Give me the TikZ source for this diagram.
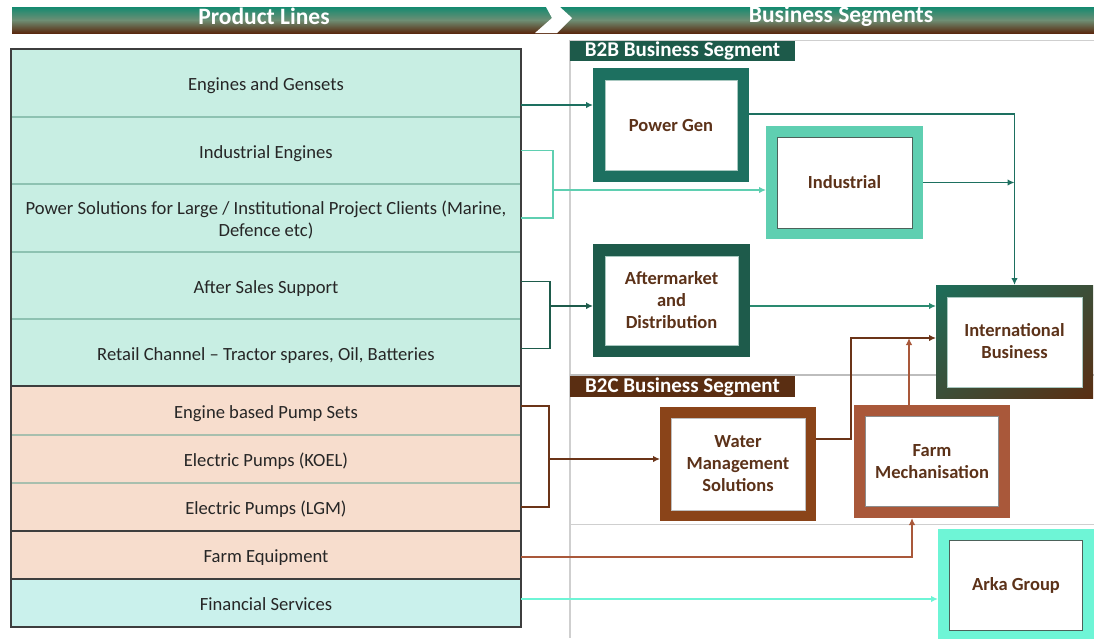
\documentclass[tikz,border=0pt]{standalone}
\usepackage{fontspec}
\setmainfont{Carlito}
\usetikzlibrary{arrows.meta,calc,shadings}
\definecolor{rowgreen}{HTML}{C8EEE3}
\definecolor{rowpeach}{HTML}{F7DDCD}
\definecolor{rowcyan}{HTML}{CAF1EC}
\definecolor{sepgreen}{HTML}{8EC2B2}
\definecolor{seppeach}{HTML}{A8BFAE}
\definecolor{outl}{HTML}{3E3E3E}
\definecolor{pgcol}{HTML}{1D7060}
\definecolor{adcol}{HTML}{1E5B4B}
\definecolor{indcol}{HTML}{5FCFB1}
\definecolor{wmcol}{HTML}{8A4419}
\definecolor{fmcol}{HTML}{A9583A}
\definecolor{akcol}{HTML}{6EF5D6}
\definecolor{txtbrown}{HTML}{5C3219}
\definecolor{b2bcol}{HTML}{1D5A4A}
\definecolor{b2ccol}{HTML}{5A2E12}
\definecolor{gridgrey}{HTML}{CFCFCF}
\definecolor{gridmid}{HTML}{BDBDBD}
\definecolor{linkgreen}{HTML}{2A8A70}
\definecolor{linkbrown}{HTML}{6B3418}
\definecolor{hdtop}{HTML}{148A70}
\definecolor{hdmid}{HTML}{6E8E74}
\definecolor{hdbot}{HTML}{5A2A10}
\definecolor{ibtl}{HTML}{1D6E5A}
\definecolor{ibbr}{HTML}{5A2E12}
\definecolor{ibmid}{HTML}{3C4E38}
\definecolor{innerdark}{HTML}{4C625A}
\definecolor{innerlight}{HTML}{A8C8C0}
\newcommand\rowfnt{\fontsize{18.6}{22}\selectfont}
\newcommand\boxfnt{\fontsize{18.5}{22}\selectfont\bfseries}
\newcommand\hdfnt{\fontsize{23.5}{26}\selectfont\bfseries}
\newcommand\lblfnt{\fontsize{21}{22}\selectfont\bfseries}
\begin{document}
\begin{tikzpicture}[x=1pt,y=-1pt,
  row/.style={rectangle, minimum width=510pt, inner sep=0pt, outer sep=0pt, anchor=north west, font=\rowfnt, text=black!85, align=center},
  rowone/.style={row, text height=16pt, text depth=1pt},
  seg/.style={rectangle, fill=white, inner sep=0pt, font=\boxfnt, text=txtbrown, align=center},
  sepline/.style={line width=1.3pt},
  outline/.style={draw=outl, line width=1.6pt},
  brk/.style={line width=1.6pt},
  link/.style={line width=1.6pt, -{Latex[length=7pt,width=6.5pt]}},
  lbl/.style={rectangle, text=white, font=\lblfnt, minimum width=225pt, inner sep=0pt, outer sep=0pt, anchor=north west},
  inline/.style={line width=0.8pt}
]
\useasboundingbox (0,0) rectangle (1094,638);
\fill[white] (0,0) rectangle (1094,638);

% header
\shade[top color=hdtop, bottom color=hdbot, middle color=hdmid] (12,7) rectangle (1094,33);
\fill[white] (546,7) -- (560,7) -- (572,18) -- (557,33) -- (535,33) -- (552,18) -- cycle;
\node[font=\hdfnt, text=white] (hpl) at (264,16) {Product Lines};
\node[font=\hdfnt, text=white] (hbs) at (841,16) {Business Segments};

% grid lines on the right
\draw[gridgrey, line width=1pt] (570,40) -- (1094,40);
\draw[gridgrey, line width=1.2pt] (570,40) -- (570,638);
\draw[gridmid, line width=2pt] (570,375) -- (1094,375);
\draw[gridgrey, line width=1pt] (570,524) -- (1094,524);

% segment labels
\node[lbl, fill=b2bcol, minimum height=20pt] (b2b) at (570,41) {B2B Business Segment};
\node[lbl, fill=b2ccol, minimum height=21pt] (b2c) at (570,376) {B2C Business Segment};

% product lines rows
\node[rowone, fill=rowgreen, minimum height=68pt] (r1) at (11,49) {Engines and Gensets};
\node[rowone, fill=rowgreen, minimum height=67pt] (r2) at (11,117) {Industrial Engines};
\node[row, fill=rowgreen, minimum height=68pt] (r3) at (11,184) {\rule{0pt}{17pt}Power Solutions for Large / Institutional Project Clients (Marine,\\Defence etc)};
\node[rowone, fill=rowgreen, minimum height=67pt] (r4) at (11,252) {After Sales Support};
\node[rowone, fill=rowgreen, minimum height=67pt] (r5) at (11,319) {Retail Channel -- Tractor spares, Oil, Batteries};
\node[rowone, fill=rowpeach, minimum height=49pt] (r6) at (11,386) {Engine based Pump Sets};
\node[rowone, fill=rowpeach, minimum height=48pt] (r7) at (11,435) {Electric Pumps (KOEL)};
\node[rowone, fill=rowpeach, minimum height=48pt] (r8) at (11,483) {Electric Pumps (LGM)};
\node[rowone, fill=rowpeach, minimum height=48pt] (r9) at (11,531) {Farm Equipment};
\node[rowone, fill=rowcyan, minimum height=48pt] (r10) at (11,579) {Financial Services};

\foreach \a in {r1,r2,r3,r4} \draw[sepline, sepgreen] (\a.south west) -- (\a.south east);
\foreach \a in {r6,r7} \draw[sepline, seppeach] (\a.south west) -- (\a.south east);
\draw[outline] (r1.north west) rectangle (r5.south east);
\draw[outline] (r6.north west) rectangle (r8.south east);
\draw[outline] (r9.north west) rectangle (r9.south east);
\draw[outline] (r10.north west) rectangle (r10.south east);

% business segment boxes
\node[seg, draw=pgcol, line width=12pt, outer sep=6pt, minimum width=144pt, minimum height=102pt] (pg) at (671,125) {Power Gen};
\node[seg, draw=indcol, line width=11pt, outer sep=5.5pt, minimum width=146pt, minimum height=102pt] (ind) at (844.5,182.5) {Industrial};
\node[seg, draw=adcol, line width=12pt, outer sep=6pt, minimum width=145pt, minimum height=101pt] (ad) at (671.5,300.5) {Aftermarket\\and\\Distribution};
\node[seg, draw=wmcol, line width=11pt, outer sep=5.5pt, minimum width=145pt, minimum height=103pt] (wm) at (738,464) {Water\\Management\\Solutions};
\node[seg, draw=fmcol, line width=11.5pt, outer sep=5.75pt, minimum width=144.5pt, minimum height=101.5pt] (fm) at (932,461.5) {Farm\\Mechanisation};
\node[seg, draw=akcol, line width=11.5pt, outer sep=5.75pt, minimum width=144.5pt, minimum height=101.5pt] (ak) at (1016,585.5) {Arka Group};

% international business with gradient frame
\node[rectangle, minimum width=157pt, minimum height=113pt, inner sep=0pt, outer sep=0pt] (ib) at (1014.5,341.5) {};
\shade[upper left=ibtl, lower right=ibbr, upper right=ibmid, lower left=ibmid] (ib.north west) rectangle (ib.south east);
\fill[white] ([shift={(11pt,-12pt)}]ib.north west) rectangle ([shift={(-11pt,11pt)}]ib.south east);
\draw[inline, innerlight] ([shift={(11pt,-12pt)}]ib.north west) rectangle ([shift={(-11pt,11pt)}]ib.south east);
\node[seg, fill=none] (ibt) at (ib.center) {International\\Business};

% thin inner borders
\draw[inline, innerlight] ([shift={(12pt,-12pt)}]pg.north west) rectangle ([shift={(-12pt,12pt)}]pg.south east);
\draw[inline, innerdark] ([shift={(11pt,-11pt)}]ind.north west) rectangle ([shift={(-11pt,11pt)}]ind.south east);
\draw[inline, innerlight] ([shift={(12pt,-12pt)}]ad.north west) rectangle ([shift={(-12pt,12pt)}]ad.south east);
\draw[inline, black!25] ([shift={(11pt,-11pt)}]wm.north west) rectangle ([shift={(-11pt,11pt)}]wm.south east);
\draw[inline, black!45] ([shift={(11.5pt,-11.5pt)}]fm.north west) rectangle ([shift={(-11.5pt,11.5pt)}]fm.south east);
\draw[inline, innerdark] ([shift={(11.5pt,-11.5pt)}]ak.north west) rectangle ([shift={(-11.5pt,11.5pt)}]ak.south east);

% connectors
\coordinate (c1) at ([yshift=-22pt]r1.east);
\draw[link, pgcol] (c1) -- (c1 -| pg.west);

\draw[brk, indcol] (r2.east) -- ++(32,0) |- (r3.east);
\coordinate (c2) at (553,190);
\draw[link, indcol] (c2) -- (c2 -| ind.west);

\coordinate (c3) at ([yshift=11pt]pg.east);
\draw[link, pgcol] (c3) -| (ib.north);
\draw[link, pgcol] (ind.east) -- (ind.east -| ib.north);

\draw[brk, adcol] ([yshift=4pt]r4.east) -- ++(29,0) |- ([yshift=4pt]r5.east);
\coordinate (c5) at (550,306);
\draw[link, adcol] (c5) -- (c5 -| ad.west);

\coordinate (c6) at ([yshift=-5.5pt]ad.east);
\draw[link, linkgreen] (c6) -- (c6 -| ib.west);

\coordinate (c7) at ([yshift=25pt]wm.east);
\coordinate (ibin) at ([yshift=3.5pt]ib.west);
\draw[link, linkbrown] (c7) -- ++(35,0) |- (ibin);

\coordinate (c8) at ([xshift=-23pt]fm.north);
\draw[link, fmcol] (c8) -- (c8 |- ibin);

\draw[brk, linkbrown] ([yshift=4.5pt]r6.east) -- ++(28,0) |- (r8.east);
\coordinate (c9) at (549,459);
\draw[link, linkbrown] (c9) -- (c9 -| wm.west);

\coordinate (c10) at ([yshift=-2pt]r9.east);
\draw[link, fmcol] (c10) -| ([xshift=-20pt]fm.south);

\coordinate (c11) at ([yshift=4pt]r10.east);
\draw[link, akcol] (c11) -- (c11 -| ak.west);
\end{tikzpicture}
\end{document}
